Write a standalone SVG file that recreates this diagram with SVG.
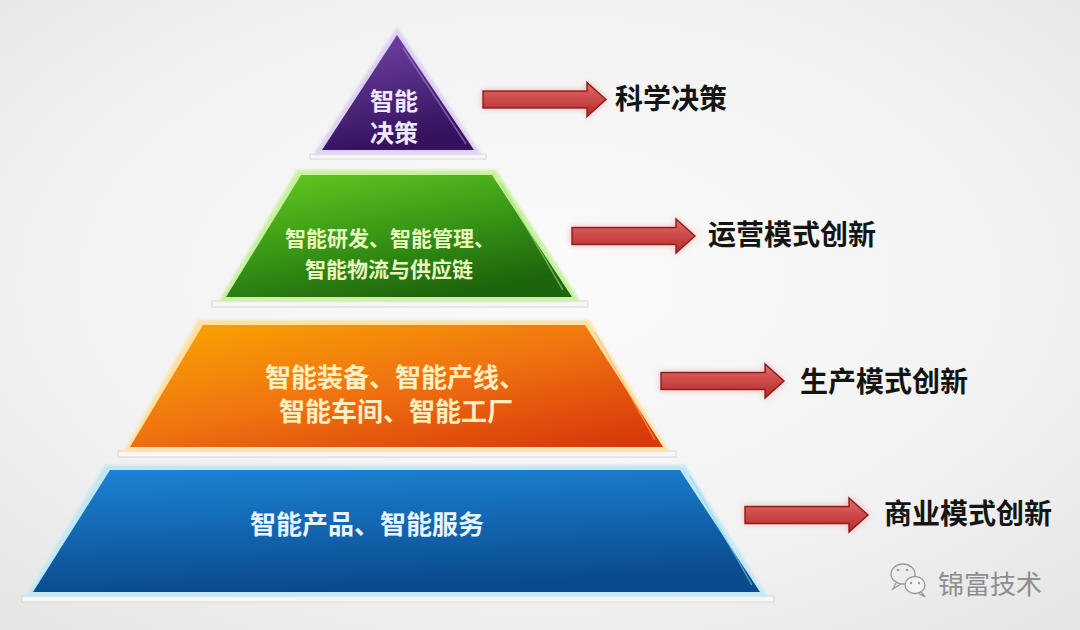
<svg xmlns="http://www.w3.org/2000/svg" width="1080" height="630" viewBox="0 0 1080 630">
  <defs>
    <radialGradient id="bg" cx="0.5" cy="0.45" r="0.75">
      <stop offset="0" stop-color="#fbfbfb"/>
      <stop offset="0.6" stop-color="#f2f2f2"/>
      <stop offset="1" stop-color="#e4e4e4"/>
    </radialGradient>
    <linearGradient id="gPurple" x1="0" y1="0" x2="0.3" y2="1">
      <stop offset="0" stop-color="#7446ab"/>
      <stop offset="1" stop-color="#34125e"/>
    </linearGradient>
    <linearGradient id="gGreen" x1="0.1" y1="0" x2="0.6" y2="1">
      <stop offset="0" stop-color="#62c820"/>
      <stop offset="0.5" stop-color="#3a9a16"/>
      <stop offset="1" stop-color="#1d640c"/>
    </linearGradient>
    <linearGradient id="gOrange" x1="0" y1="0" x2="0.9" y2="1">
      <stop offset="0" stop-color="#f8a800"/>
      <stop offset="0.5" stop-color="#f07410"/>
      <stop offset="1" stop-color="#d8380a"/>
    </linearGradient>
    <linearGradient id="gBlue" x1="0" y1="0" x2="0.2" y2="1">
      <stop offset="0" stop-color="#1c84d6"/>
      <stop offset="1" stop-color="#0a4b8e"/>
    </linearGradient>
    <linearGradient id="gArrow" x1="0" y1="0" x2="0" y2="1">
      <stop offset="0" stop-color="#e46a66"/>
      <stop offset="1" stop-color="#b42a2a"/>
    </linearGradient>
    <filter id="glow" x="-20%" y="-50%" width="140%" height="200%">
      <feGaussianBlur in="SourceAlpha" stdDeviation="3" result="b"/>
      <feFlood flood-color="#f2a0a0" flood-opacity="0.8"/>
      <feComposite in2="b" operator="in" result="g"/>
      <feMerge><feMergeNode in="g"/><feMergeNode in="SourceGraphic"/></feMerge>
    </filter>
    <filter id="soft" x="-10%" y="-10%" width="120%" height="120%">
      <feGaussianBlur stdDeviation="1.5"/>
    </filter>
    <path id="arrow" d="M0,-8.5 H104 V-17 L123,0 L104,17 V8.5 H0 Z"/>
    <style>
      .tierText { font-family: "Noto Sans CJK SC", "Liberation Sans", sans-serif; font-weight: bold; text-anchor: middle; dominant-baseline: central; }
      .label { font-family: "Noto Sans CJK SC", "Liberation Sans", sans-serif; font-weight: bold; font-size: 28px; fill: #141414; dominant-baseline: central; }
      .plate { fill: #f7f7f7; stroke: #d6d6d6; stroke-width: 1; }
      .hl { fill: none; stroke-width: 1.5; opacity: 0.6; }
      .arr { fill: url(#gArrow); stroke: #8a1c1c; stroke-width: 1.5; filter: url(#glow); }
    </style>
  </defs>

  <rect width="1080" height="630" fill="url(#bg)"/>

  <!-- Tier 4: blue -->
  <g id="tier-blue">
    <rect class="plate" x="22" y="596" width="752" height="6"/>
    <polygon points="105,465 685,465 767,596 26,596" fill="#bfe8f4" filter="url(#soft)"/>
    <polygon points="110,470 680,470 760,592 33,592" fill="url(#gBlue)"/>
    <line class="hl" x1="690" y1="476" x2="752" y2="585" stroke="#8fd0f0"/>
    <text class="tierText" x="367" y="522" font-size="26" fill="#e8f4ff">智能产品、智能服务</text>
  </g>

  <!-- Tier 3: orange -->
  <g id="tier-orange">
    <rect class="plate" x="118" y="451" width="558" height="6"/>
    <polygon points="198,320 589,320 669,451 124,451" fill="#ffe0a0" filter="url(#soft)"/>
    <polygon points="203,325 585,325 663,447 130,447" fill="url(#gOrange)"/>
    <line class="hl" x1="595" y1="332" x2="655" y2="440" stroke="#ffb070"/>
    <text class="tierText" x="395" y="375" font-size="26" fill="#ffeec0">智能装备、智能产线、</text>
    <text class="tierText" x="396" y="409" font-size="26" fill="#ffeec0">智能车间、智能工厂</text>
  </g>

  <!-- Tier 2: green -->
  <g id="tier-green">
    <rect class="plate" x="212" y="301" width="376" height="6"/>
    <polygon points="297,170 496,170 580,301 219,301" fill="#c8f0a0" filter="url(#soft)"/>
    <polygon points="301,175 492,175 572,297 226,297" fill="url(#gGreen)"/>
    <line class="hl" x1="500" y1="182" x2="563" y2="290" stroke="#9be070"/>
    <text class="tierText" x="390" y="237" font-size="21" fill="#eaf6c0">智能研发、智能管理、</text>
    <text class="tierText" x="389" y="268" font-size="21" fill="#eaf6c0">智能物流与供应链</text>
  </g>

  <!-- Tier 1: purple -->
  <g id="tier-purple">
    <rect class="plate" x="310" y="154" width="176" height="5"/>
    <polygon points="397,27 314,154 481,154" fill="#dcd0f0" filter="url(#soft)"/>
    <polygon points="397,35 322,150 474,150" fill="url(#gPurple)"/>
    <line class="hl" x1="403" y1="48" x2="466" y2="144" stroke="#a58ad0"/>
    <text class="tierText" x="394" y="99" font-size="24" fill="#f0e8ff">智能</text>
    <text class="tierText" x="394" y="131" font-size="24" fill="#f0e8ff">决策</text>
  </g>

  <!-- Connectors -->
  <g id="connectors">
    <use href="#arrow" class="arr" transform="translate(483,99.5)"/>
    <use href="#arrow" class="arr" transform="translate(572,236)"/>
    <use href="#arrow" class="arr" transform="translate(661,381)"/>
    <use href="#arrow" class="arr" transform="translate(745,515)"/>
  </g>

  <!-- Labels -->
  <g id="label-1"><text class="label" x="615" y="97" font-size="29">科学决策</text></g>
  <g id="label-2"><text class="label" x="708" y="233">运营模式创新</text></g>
  <g id="label-3"><text class="label" x="800" y="380">生产模式创新</text></g>
  <g id="label-4"><text class="label" x="884" y="512">商业模式创新</text></g>

  <!-- Watermark -->
  <g id="watermark">
    <ellipse cx="903" cy="574" rx="12" ry="10" fill="none" stroke="#9a9a9a" stroke-width="1.3"/>
    <path d="M896,583 L893,589 L901,584" fill="none" stroke="#9a9a9a" stroke-width="1.3"/>
    <ellipse cx="915" cy="585" rx="10" ry="8.5" fill="#f4f4f4" stroke="#9a9a9a" stroke-width="1.3"/>
    <path d="M921,592 L925,597 L918,593" fill="none" stroke="#9a9a9a" stroke-width="1.3"/>
    <circle cx="898" cy="570" r="1.3" fill="#9a9a9a"/>
    <circle cx="907" cy="570" r="1.3" fill="#9a9a9a"/>
    <circle cx="911" cy="583" r="1.2" fill="#9a9a9a"/>
    <circle cx="919" cy="583" r="1.2" fill="#9a9a9a"/>
    <text x="938" y="582" font-family="Noto Sans CJK SC, Liberation Sans, sans-serif" font-size="26" fill="#8e8e8e" dominant-baseline="central">锦富技术</text>
  </g>
</svg>
